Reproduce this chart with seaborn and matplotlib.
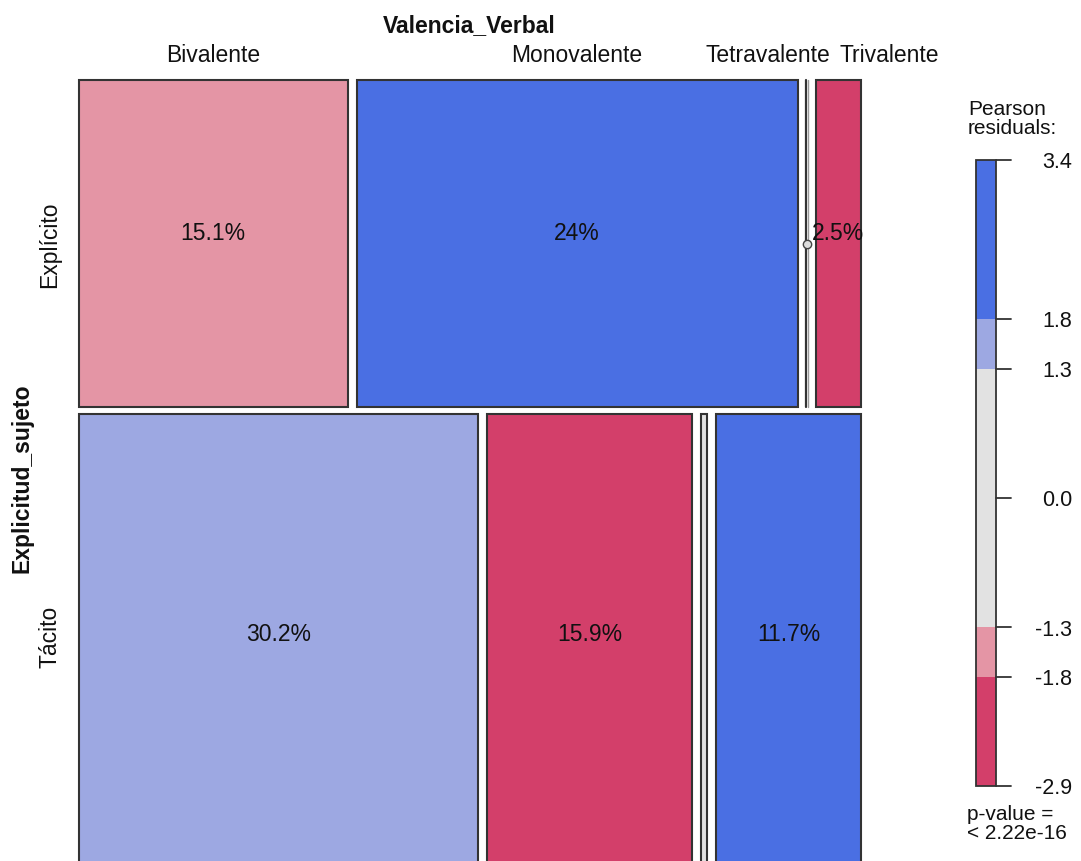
import matplotlib
matplotlib.use("Agg")
import matplotlib.pyplot as plt
import seaborn as sns

# %% data read off the mosaic
rows = ["Explícito", "Tácito"]
cols = ["Bivalente", "Monovalente", "Tetravalente", "Trivalente"]

# tile shares (% of all cases), estimated from tile sizes
explicito_share = [14.8, 24.3, 0.0, 2.5]
tacito_share = [30.9, 15.9, 0.46, 11.2]

# printed cell labels
explicito_labels = ["15.1%", "24%", "", "2.5%"]
tacito_labels = ["30.2%", "15.9%", "", "11.7%"]

# pearson residuals (estimated from shading)
explicito_resid = [-1.6, 3.4, -0.5, -2.4]
tacito_resid = [1.5, -2.9, 0.4, 2.6]

legend_ticks = [3.4, 1.8, 1.3, 0.0, -1.3, -1.8, -2.9]
legend_bins = [-2.9, -1.8, -1.3, 1.3, 1.8, 3.4]
bin_colors = ["#D33F6A", "#E495A5", "#E2E2E2", "#9DA8E2", "#4A6FE3"]


def shade(r):
    if r > 1.8:
        return bin_colors[4]
    if r > 1.3:
        return bin_colors[3]
    if r >= -1.3:
        return bin_colors[2]
    if r >= -1.8:
        return bin_colors[1]
    return bin_colors[0]


# %% plot
sns.set_style("white")
plt.rcParams['font.family'] = ['Liberation Sans', 'DejaVu Sans']
plt.rcParams['text.color'] = '#111111'

fig = plt.figure(figsize=(10.81, 8.62), dpi=100)
ax = fig.add_axes([0, 0, 1, 1])
ax.set_xlim(0, 1081)
ax.set_ylim(862, 0)
ax.axis("off")

X0, X1, Y0, H = 79, 861, 81, 794
GX, GY = 9, 7
edge = "#333333"
FS = 16.5

shares = [explicito_share, tacito_share]
labels = [explicito_labels, tacito_labels]
resids = [explicito_resid, tacito_resid]
row_tot = [sum(s) for s in shares]
grand = sum(row_tot)

y = Y0
row_centers = []
top_centers = []
for r in range(len(rows)):
    h = (H - GY) * row_tot[r] / grand
    avail_w = (X1 - X0) - GX * (len(cols) - 1)
    x = X0
    for c in range(len(cols)):
        w = avail_w * shares[r][c] / row_tot[r]
        if w == 0:
            ax.plot([x - 1, x - 1], [y, y + h], color=edge, lw=1.6, zorder=3)
            ax.plot([x + 1.5, x + 1.5], [y, y + h], color="#999999", lw=1.0, zorder=3)
            ax.plot(x, y + h / 2, "o", mfc="#dddddd", mec="#444444", ms=6, zorder=4)
        else:
            ax.bar(x, h, width=w, bottom=y, align="edge", color=shade(resids[r][c]),
                   edgecolor=edge, linewidth=1.5)
            if labels[r][c]:
                ax.text(x + w / 2, y + h / 2 - 11, labels[r][c], ha="center",
                        va="center", fontsize=FS)
        if r == 0:
            top_centers.append(x + w / 2)
        x += w + GX
    row_centers.append(y + h / 2)
    y += h + GY

# column labels (last two pushed apart like vcd does)
shift = [0, 0, -39, 51]
for c, name in enumerate(cols):
    ax.text(top_centers[c] + shift[c], 55, name, ha="center", va="center", fontsize=FS)
ax.text(469, 26, "Valencia_Verbal", ha="center", va="center", fontsize=FS,
        fontweight="bold")

# row labels
row_y = [row_centers[0], row_centers[1] - 8]
for r, name in enumerate(rows):
    ax.text(50, row_y[r], name, rotation=90, ha="center", va="center", fontsize=FS)
ax.text(22, 478, "Explicitud_sujeto", rotation=90, ha="center", va="center",
        fontsize=FS, fontweight="bold")

# %% legend
LT, LB = 161, 787
vmax, vmin = legend_ticks[0], legend_ticks[-1]


def ly(v):
    return LB - (v - vmin) / (vmax - vmin) * (LB - LT)


for i in range(len(bin_colors)):
    lo, hi = legend_bins[i], legend_bins[i + 1]
    ax.bar(976, ly(lo) - ly(hi), width=20, bottom=ly(hi), align="edge",
           color=bin_colors[i], edgecolor="none")
ax.bar(976, LB - LT, width=20, bottom=LT, align="edge", color="none",
       edgecolor=edge, linewidth=1.3)
for t in legend_ticks:
    ax.plot([996, 1011], [ly(t), ly(t)], color=edge, lw=1.3)
    ax.text(1072, ly(t) + 2, f"{t:.1f}", ha="right", va="center", fontsize=15.5)

ax.text(968, 100, "Pearson\nresiduals:", ha="left", va="top", fontsize=15,
        linespacing=1.02)
ax.text(967, 805, "p-value =\n< 2.22e-16", ha="left", va="top", fontsize=15,
        linespacing=1.02)

fig.savefig("out.png", dpi=100)
